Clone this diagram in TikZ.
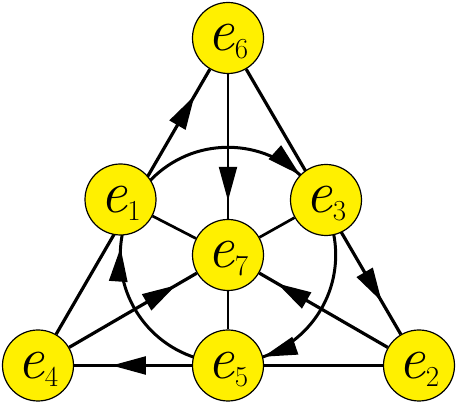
\documentclass[tikz,border=0pt]{standalone}
\usetikzlibrary{arrows.meta,decorations.markings,backgrounds}
\definecolor{fanoyellow}{RGB}{255,240,0}
\newcommand{\unitlabel}[1]{{\fontsize{60}{60}\selectfont\itshape e}\raisebox{-8pt}[0pt][0pt]{\fontsize{29}{29}\selectfont #1}}
\tikzstyle{unit}=[circle,draw=black,line width=1.2pt,fill=fanoyellow,minimum size=71pt,inner sep=0pt]
\tikzstyle{heavy}=[line width=3.2pt]
\tikzstyle{medium}=[line width=2.7pt]
\tikzstyle{light}=[line width=2.1pt]
\tikzset{fanotip/.tip={Triangle[length=34pt,width=18pt]},
  tipat/.style={postaction={decorate},decoration={markings,mark=at position #1 with {\arrow{fanotip}}}},
  ring/.style={line width=3pt,postaction={decorate},decoration={markings,
    mark=at position 0.197 with {\arrow{fanotip}},
    mark=at position 0.511 with {\arrow{fanotip}},
    mark=at position 0.8667 with {\arrow{fanotip}}}}}

\begin{document}
\begin{tikzpicture}[x=1pt,y=1pt]
\useasboundingbox (0,0) rectangle (456,403);
\node[unit] (e6) at (228,365) {\unitlabel{6}};
\node[unit] (e1) at (120.5,203.5) {\unitlabel{1}};
\node[unit] (e3) at (326,203) {\unitlabel{3}};
\node[unit] (e7) at (228,148) {\unitlabel{7}};
\node[unit] (e4) at (38,37.5) {\unitlabel{4}};
\node[unit] (e5) at (228,37.5) {\unitlabel{5}};
\node[unit] (e2) at (419,37.5) {\unitlabel{2}};
\begin{scope}[on background layer]
\draw[heavy,tipat=0.9] (e4) -- (e6);
\draw[heavy,tipat=0.877] (e6) -- (e2);
\draw[light,tipat=0.68] (e5) -- (e4);
\draw[light] (e2) -- (e5);
\draw[light,tipat=0.875] (e6) -- (e7);
\draw[light] (e7) -- (e5);
\draw[medium] (e1) -- (e7);
\draw[medium] (e3) -- (e7);
\draw[heavy,tipat=0.837] (e4) -- (e7);
\draw[heavy,tipat=0.86] (e2) -- (e7);
\draw[ring] (e7.center) ++(0:107.7) arc[start angle=0,end angle=-360,radius=107.7];
\end{scope}
\end{tikzpicture}
\end{document}
